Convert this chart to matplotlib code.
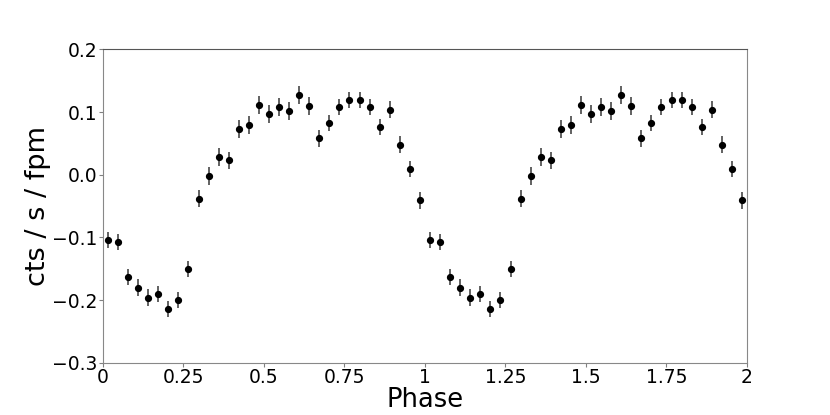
import numpy as np
import matplotlib
matplotlib.use("Agg")
import matplotlib.pyplot as plt

# folded light curve, 32 phase bins (one cycle), plotted twice
rate = [-0.104, -0.107, -0.163, -0.180, -0.196, -0.190, -0.214, -0.200,
        -0.151, -0.038, -0.002, 0.028, 0.023, 0.073, 0.079, 0.111,
        0.097, 0.108, 0.102, 0.127, 0.110, 0.058, 0.083, 0.108,
        0.119, 0.119, 0.108, 0.076, 0.104, 0.048, 0.009, -0.041]
rate_err = [0.013, 0.013, 0.013, 0.013, 0.013, 0.013, 0.013, 0.013,
            0.013, 0.013, 0.014, 0.014, 0.014, 0.014, 0.014, 0.014,
            0.014, 0.014, 0.014, 0.014, 0.014, 0.013, 0.013, 0.013,
            0.013, 0.013, 0.013, 0.013, 0.013, 0.013, 0.013, 0.013]
n_bins = len(rate)
xticks = [0, 0.25, 0.5, 0.75, 1, 1.25, 1.5, 1.75, 2]
xtick_labels = ['0', '0.25', '0.5', '0.75', '1', '1.25', '1.5', '1.75', '2']

phase = (np.arange(n_bins) + 0.5) / n_bins
phase2 = np.concatenate([phase, phase + 1])
rate2 = np.concatenate([rate, rate])
err2 = np.concatenate([rate_err, rate_err])

fig = plt.figure(figsize=(8.3, 4.15), dpi=100)
ax = fig.add_axes([0.124, 0.126, 0.776, 0.755])
ax.errorbar(phase2, rate2, yerr=err2, fmt='o', color='black', ms=4.2,
            ecolor='#555555', elinewidth=1.3, capsize=0)
ax.set_xlim(0, 2)
ax.set_ylim(-0.3, 0.2)
ax.set_xticks(xticks)
ax.set_xticklabels(xtick_labels)
ax.set_yticks([-0.3, -0.2, -0.1, 0.0, 0.1, 0.2])
ax.set_xlabel('Phase', fontsize=18.5, labelpad=0)
ax.set_ylabel('cts / s / fpm', fontsize=19.5, labelpad=1)
ax.tick_params(labelsize=13.5, color='gray', length=3, pad=1)
for s in ax.spines.values():
    s.set_color('#888888')
ax.spines['top'].set_color('#555555')
fig.savefig('out.png', dpi=100)
